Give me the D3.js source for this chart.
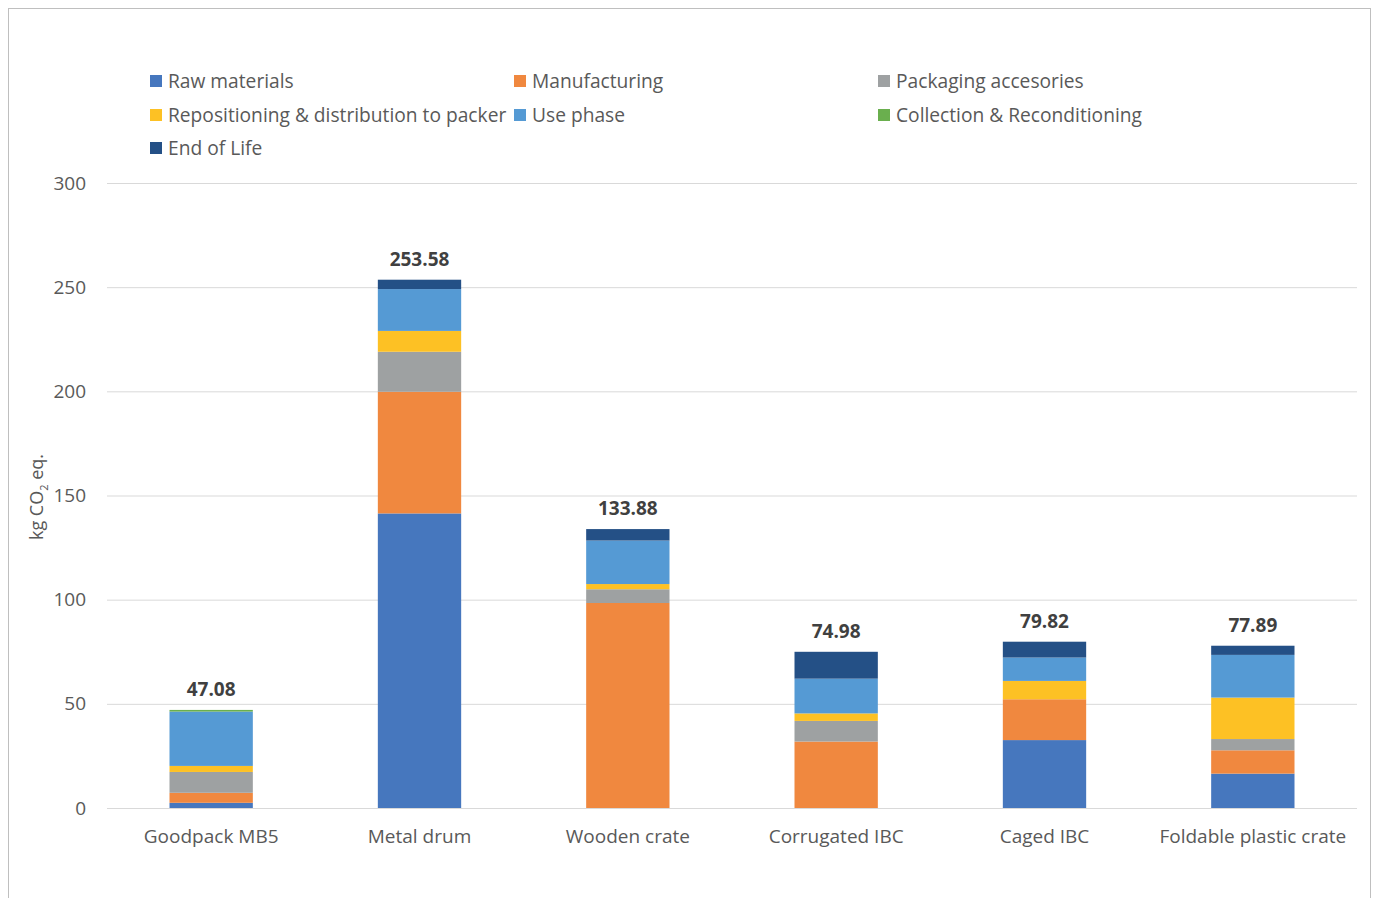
<!DOCTYPE html>
<html>
<head>
<meta charset="utf-8">
<script src="https://cdn.jsdelivr.net/npm/d3@7"></script>
<style>
  body { margin: 0; background: #fff; }
  text { font-family: "Open Sans", "Noto Sans", sans-serif; }
</style>
</head>
<body>
<div id="drawing"></div>
<script>
// chart data
const categories = ["Goodpack MB5", "Metal drum", "Wooden crate", "Corrugated IBC", "Caged IBC", "Foldable plastic crate"];
const phases = ["Raw materials", "Manufacturing", "Packaging accesories", "Repositioning & distribution to packer", "Use phase", "Collection & Reconditioning", "End of Life"];
const rawMaterials   = [2.5, 141.4, 0, 0, 32.6, 16.5];
const manufacturing  = [4.8, 58.4, 98.4, 31.9, 19.6, 11.2];
const packaging      = [10.0, 19.2, 6.6, 9.9, 0, 5.4];
const repositioning  = [2.9, 10.0, 2.5, 3.6, 8.8, 19.9];
const usePhase       = [26.08, 20.08, 20.88, 16.68, 11.22, 20.49];
const collection     = [0.8, 0, 0, 0, 0, 0];
const endOfLife      = [0, 4.5, 5.5, 12.9, 7.6, 4.4];
const totals         = ["47.08", "253.58", "133.88", "74.98", "79.82", "77.89"];
const yTicks = [0, 50, 100, 150, 200, 250, 300];

const colors = ["#4677BE", "#F0883F", "#9EA1A2", "#FDC124", "#559AD4", "#6AAF4E", "#245086"];
const series = [rawMaterials, manufacturing, packaging, repositioning, usePhase, collection, endOfLife];

const width = 1375;
const height = 898;
const plot = {left: 107, right: 1357, top: 183, bottom: 808};

const svg = d3.select("#drawing").append("svg")
  .attr("width", width)
  .attr("height", height);

// outer frame
svg.append("rect")
  .attr("x", 8.5).attr("y", 8.5)
  .attr("width", 1362).attr("height", 920)
  .attr("fill", "none")
  .attr("stroke", "#BFBFBF")
  .attr("stroke-width", 1);

const xScale = d3.scaleBand()
  .domain(categories)
  .range([plot.left, plot.right])
  .paddingInner(0.6)
  .paddingOuter(0.3);

const yScale = d3.scaleLinear()
  .domain([0, 300])
  .range([plot.bottom, plot.top]);

// gridlines + y labels
const yAxis = svg.append("g")
  .attr("transform", `translate(${plot.left},0)`)
  .call(d3.axisLeft(yScale).tickValues(yTicks).tickSize(-(plot.right - plot.left)).tickPadding(21));
yAxis.select(".domain").remove();
yAxis.selectAll("line").attr("stroke", "#D9D9D9");
yAxis.selectAll("text")
  .attr("fill", "#595959")
  .style("font-size", "19px");

// stack the data
const rows = categories.map((c, i) => {
  const r = {category: c};
  phases.forEach((p, j) => r[p] = series[j][i]);
  return r;
});
const stacked = d3.stack().keys(phases)(rows);

svg.append("g").selectAll("g")
  .data(stacked)
  .join("g")
    .attr("fill", (d, i) => colors[i])
  .selectAll("rect")
  .data(d => d)
  .join("rect")
    .attr("x", d => xScale(d.data.category))
    .attr("y", d => yScale(d[1]))
    .attr("width", xScale.bandwidth())
    .attr("height", d => yScale(d[0]) - yScale(d[1]));

// totals on top
const sums = categories.map((c, i) => d3.sum(series, s => s[i]));
svg.append("g").selectAll("text")
  .data(categories)
  .join("text")
    .attr("x", d => xScale(d) + xScale.bandwidth() / 2)
    .attr("y", (d, i) => yScale(sums[i]) - 14)
    .attr("text-anchor", "middle")
    .attr("fill", "#404040")
    .style("font-size", "19px")
    .style("font-weight", "bold")
    .text((d, i) => totals[i]);

// x labels
const xAxis = svg.append("g")
  .attr("transform", `translate(0,${plot.bottom})`)
  .call(d3.axisBottom(xScale).tickSize(0).tickPadding(22));
xAxis.select(".domain").remove();
xAxis.selectAll("text")
  .attr("fill", "#595959")
  .style("font-size", "19px");

// y title
const yTitle = svg.append("text")
  .attr("transform", "translate(43,497) rotate(-90)")
  .attr("text-anchor", "middle")
  .attr("fill", "#595959")
  .style("font-size", "18px");
yTitle.append("tspan").text("kg CO");
yTitle.append("tspan").attr("dy", 5).style("font-size", "11px").text("2");
yTitle.append("tspan").attr("dy", -5).text(" eq.");

// legend
const legendX = [150, 514, 878];
const legendY = [81, 115, 148];
const legend = svg.append("g").selectAll("g")
  .data(phases)
  .join("g")
    .attr("transform", (d, i) => `translate(${legendX[i % 3]},${legendY[Math.floor(i / 3)]})`);
legend.append("rect")
  .attr("x", 0).attr("y", -6)
  .attr("width", 12).attr("height", 12)
  .attr("fill", (d, i) => colors[i]);
legend.append("text")
  .attr("x", 18).attr("y", 0)
  .attr("dy", "0.35em")
  .attr("fill", "#595959")
  .style("font-size", "19.2px")
  .text(d => d);
</script>
</body>
</html>
